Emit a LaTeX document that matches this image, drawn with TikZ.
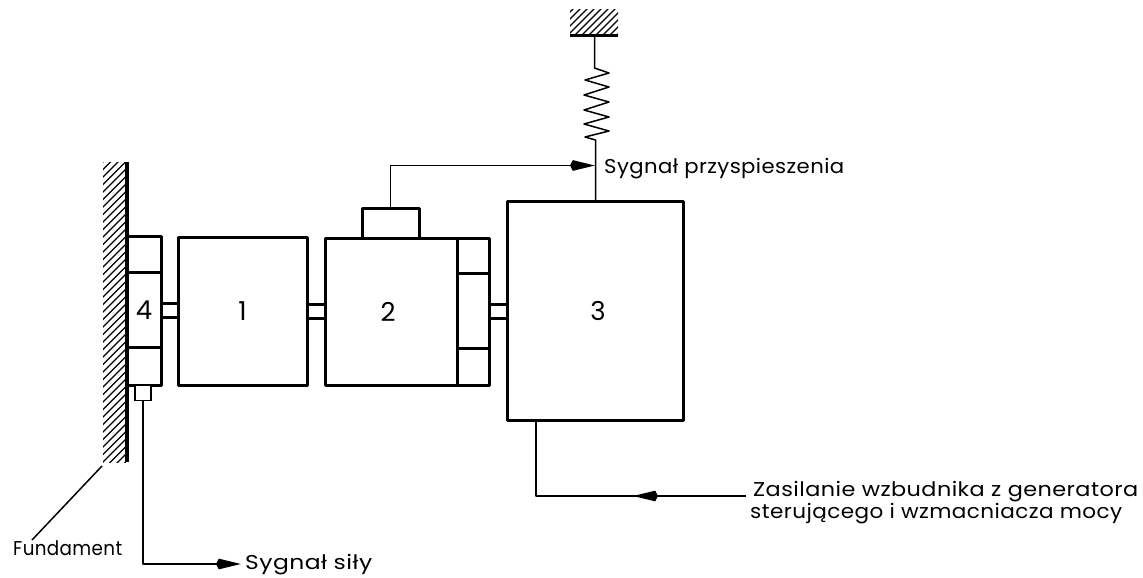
\documentclass[tikz,border=0pt]{standalone}
\usepackage{graphicx}
\usepackage{fontspec}
\setmainfont{Poppins}[LetterSpace=2]
\usetikzlibrary{arrows.meta,calc}
\newcommand{\fitw}[2]{\resizebox{#1pt}{\height}{#2}}
\tikzset{
  thickbox/.style={draw=black,line width=3pt,inner sep=0pt,outer sep=0pt,fill=white,line join=round,font=\fontsize{26}{28}\selectfont},
  thin line/.style={draw=black,line width=1.5pt,line join=round},
  headtip/.style={-{Stealth[length=22pt,width=10pt,inset=-3pt]}},
  signal/.style={thin line,headtip},
  stub/.style={draw=black,line width=3pt,fill=white,inner sep=0pt,outer sep=0pt},
  hatch/.style={draw=black,line width=1.2pt},
  label/.style={inner sep=0pt,anchor=base west,font=\fontsize{20}{22}\selectfont},
}
\begin{document}
\begin{tikzpicture}[x=1pt,y=-1pt]
\useasboundingbox (0,0) rectangle (1143,578);
% wall hatching
\begin{scope}
\clip (103,162) rectangle (126,462);
\foreach \s in {265,272.5,...,600} {\draw[hatch] (95,{\s-95}) -- (135,{\s-135});}
\end{scope}
\coordinate (wallT) at (127,162);
\coordinate (wallB) at (127,462);
\draw[black,line width=3.5pt] (wallT) -- (wallB);
% top ground hatching
\begin{scope}
\clip (570,10) rectangle (618,36);
\foreach \s in {582,589,...,654} {\draw[hatch] (560,{\s-560}) -- (630,{\s-630});}
\end{scope}
\coordinate (gndL) at (570,36);
\coordinate (gndR) at (618,36);
\coordinate (gndM) at (594.5,36);
\draw[black,line width=3pt] (gndL) -- (gndR);
% connecting stubs
\node[stub,minimum width=20pt,minimum height=14pt] (s41) at (169.5,310.5) {};
\node[stub,minimum width=20pt,minimum height=14pt] (s12) at (316,311) {};
\node[stub,minimum width=20pt,minimum height=14pt] (s23) at (498,311.5) {};
% box 4
\node[thickbox,minimum width=34pt,minimum height=149pt,anchor=north west] (b4) at (127,236) {};
\node[thickbox,draw=none,fill=none] (n4) at (144,310) {4};
\coordinate (d4a) at (127,272);\coordinate (d4b) at (161,272);
\coordinate (d4c) at (127,347);\coordinate (d4d) at (161,347);
\draw[black,line width=3pt] (d4a) -- (d4b) (d4c) -- (d4d);
% box 1
\node[thickbox,minimum width=129pt,minimum height=148pt] (b1) at (242.5,311) {1};
% box 2 with its flange
\node[thickbox,minimum width=34pt,minimum height=147pt] (fl) at (472.5,312) {};
\node[thickbox,minimum width=132pt,minimum height=147pt] (b2) at (391,312) {\hspace{-6pt}2};
\coordinate (d2a) at (456,273);\coordinate (d2b) at (489,273);
\coordinate (d2c) at (456,348);\coordinate (d2d) at (489,348);
\draw[black,line width=3pt] (d2a) -- (d2b) (d2c) -- (d2d);
\node[thickbox,minimum width=57pt,minimum height=30pt] (acc) at (390.5,223) {};
% box 3
\node[thickbox,minimum width=176pt,minimum height=219pt] (b3) at (595,310.5) {\hspace{6pt}3};
% force sensor
\node[draw=black,line width=1.6pt,fill=white,inner sep=0pt,outer sep=0pt,minimum width=16pt,minimum height=15pt] (fs) at (143,393) {};
% spring
\coordinate (sp0) at (594.5,68);
\coordinate (sp1) at (595.5,140);
\draw[thin line] (gndM) -- (sp0) -- (609,73) -- (585,80) -- (609,87) -- (584,95) -- (609,102) -- (584,110) -- (609,117) -- (584,124) -- (609,131) -- (585,137) -- (sp1) -- (b3.north -| sp1);
% signals
\coordinate (accTip) at (595,165.5);
\draw[signal] (acc.north) -- (acc.north |- accTip) -- (accTip);
\coordinate (forceTip) at (241,564);
\draw[signal] (fs.south) -- (fs.south |- forceTip) -- (forceTip);
\coordinate (feedStart) at (746,496);
\coordinate (feedElbow) at (536,496);
\coordinate (feedEnd) at (536,420);
\draw[thin line] (feedStart) -- (feedElbow) -- (feedEnd);
\coordinate (feedArrowA) at (656,496);
\coordinate (feedArrowB) at (633,496);
\draw[signal] (feedArrowA) -- (feedArrowB);
% leader
\coordinate (ldA) at (102,466);
\coordinate (ldB) at (32,540);
\draw[thin line] (ldA) -- (ldB);
% labels
\node[label] (t1) at (604,173) {\fitw{240}{Sygnał przyspieszenia}};
\node[label] (t2) at (753,496) {\fitw{385}{Zasilanie wzbudnika z generatora}};
\node[label] (t3) at (750,518) {\fitw{372}{sterującego i wzmacniacza mocy}};
\node[label] (t4) at (13,555) {\fitw{109}{Fundament}};
\node[label] (t5) at (245,569) {\fitw{127}{Sygnał siły}};
\end{tikzpicture}
\end{document}
